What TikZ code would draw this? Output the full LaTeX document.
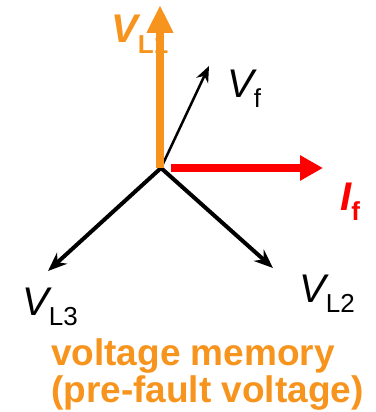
\documentclass[tikz,border=0pt]{standalone}
\usepackage{fontspec}
\setmainfont{Liberation Sans}
\usepackage{xcolor}
\definecolor{memorange}{HTML}{F7941D}
\definecolor{faultred}{HTML}{FF0000}
\usepackage{tikz}
\usetikzlibrary{arrows.meta, positioning}

% phasor label: italic V with a lowered upright subscript
\newcommand{\phlabel}[2]{\itshape #1\upshape\raisebox{-10pt}{\fontsize{26}{26}\selectfont #2}}

\begin{document}
\begin{tikzpicture}[x=1pt, y=-1pt,
  phasor/.style={line width=4pt, -{Stealth[length=19pt, width=15pt]}},
  thinphasor/.style={line width=2.5pt, -{Stealth[length=16pt, width=13pt]}},
  phtext/.style={anchor=base west, inner sep=0pt, font=\fontsize{40}{40}\selectfont}]
\useasboundingbox (0,0) rectangle (375,412);

% Phasor end points
\coordinate (O) at (161,168);
\coordinate (L1) at (160,5);
\coordinate (L2) at (273,268);
\coordinate (L3) at (48,271);
\coordinate (F) at (209,66);
\coordinate (Is) at (171,168);
\coordinate (I) at (323,168);

% Line voltages L2, L3 and fault voltage
\draw[phasor] (O) -- (L2);
\draw[phasor] (O) -- (L3);
\draw[thinphasor] (O) -- (F);

% Labels
\node[phtext, text=memorange] (lblL1) at (111,43) {\bfseries\phlabel{V}{L1}};
\node[phtext] (lblF) at (227,97) {\phlabel{V}{f}};
\node[phtext] (lblL2) at (299,302) {\phlabel{V}{L2}};
\node[phtext] (lblL3) at (22,315) {\phlabel{V}{L3}};
\node[phtext, text=faultred] (lblI) at (340,210) {\bfseries\phlabel{I}{f}};

% Memory voltage L1 and fault current
\draw[memorange, line width=8.5pt, -{Triangle[length=28pt, width=25pt]}] (160,168) -- (L1);
\draw[faultred, line width=8.5pt, -{Triangle[length=23pt, width=24pt]}] (Is) -- (I);

% Caption (base = last line)
\node[anchor=base west, inner sep=0pt, align=left, text=memorange,
  font=\fontsize{37}{37}\selectfont\bfseries] (memo) at (51,402)
  {voltage memory\\(pre-fault voltage)};
\end{tikzpicture}
\end{document}
